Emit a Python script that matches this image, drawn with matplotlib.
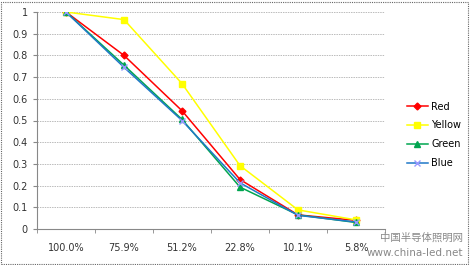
import numpy as np
import matplotlib.pyplot as plt
from matplotlib.patches import Rectangle

categories = ["100.0%", "75.9%", "51.2%", "22.8%", "10.1%", "5.8%"]
red = [1.0, 0.80, 0.545, 0.228, 0.065, 0.04]
yellow = [1.0, 0.965, 0.67, 0.292, 0.088, 0.042]
green = [1.0, 0.755, 0.505, 0.193, 0.065, 0.03]
blue = [1.0, 0.745, 0.50, 0.213, 0.063, 0.032]

plt.rcParams['font.family'] = ['DejaVu Sans']

fig = plt.figure(figsize=(4.7, 2.65), dpi=100)
ax = fig.add_axes([37/470, 1 - 229/265, 348/470, 217/265])

x = np.arange(len(categories))
ax.plot(x, red, color="#FF0000", marker="D", markersize=3.5, lw=1.1, label="Red")
ax.plot(x, yellow, color="#FFFF00", marker="s", markersize=5, lw=1.1, label="Yellow")
ax.plot(x, green, color="#00A550", marker="^", markersize=4.5, lw=1.1, label="Green")
ax.plot(x, blue, color="#1F78C8", marker="x", markersize=4.5, lw=1.1,
        markeredgecolor="#9999FF", label="Blue")

ax.set_xlim(-0.5, len(categories) - 0.5)
ax.set_ylim(0, 1)
ax.set_yticks(np.arange(0, 1.01, 0.1))
ax.set_yticklabels(["0", "0.1", "0.2", "0.3", "0.4", "0.5", "0.6", "0.7", "0.8", "0.9", "1"])
ax.set_xticks(x)
ax.set_xticklabels(categories)
ax.set_xticks(np.arange(-0.5, len(categories), 1), minor=True)
ax.tick_params(axis="x", which="major", length=0, pad=10, labelsize=7, colors="#333333")
ax.tick_params(axis="x", which="minor", length=3, color="#888888")
ax.tick_params(axis="y", length=3, labelsize=7, colors="#333333", color="#888888")
ax.grid(axis="y", color="#BBBBBB", linestyle=(0, (1.5, 1)), lw=0.7)
for s in ["top", "right"]:
    ax.spines[s].set_visible(False)
ax.spines["left"].set_color("#888888")
ax.spines["bottom"].set_color("#888888")

fig.legend(loc="upper left", bbox_to_anchor=(398/470, 1 - 93/265), frameon=False,
           fontsize=7, handlelength=2.2, labelspacing=0.9, handletextpad=0.3)

fig.patches.append(Rectangle((0.003, 0.004), 0.993, 0.99, transform=fig.transFigure,
                             fill=False, edgecolor="#666666", lw=0.8, linestyle=(0, (1, 1))))

# watermark
fig.text(463/470, 1 - 238/265, "中国半导体照明网", fontsize=7.5, color="#888888",
         family=["Noto Sans CJK SC", "DejaVu Sans"], va="center", ha="right")
fig.text(463/470, 1 - 253/265, "www.china-led.net", fontsize=7.5, color="#888888",
         va="center", ha="right")

fig.savefig("out.png", dpi=100)
